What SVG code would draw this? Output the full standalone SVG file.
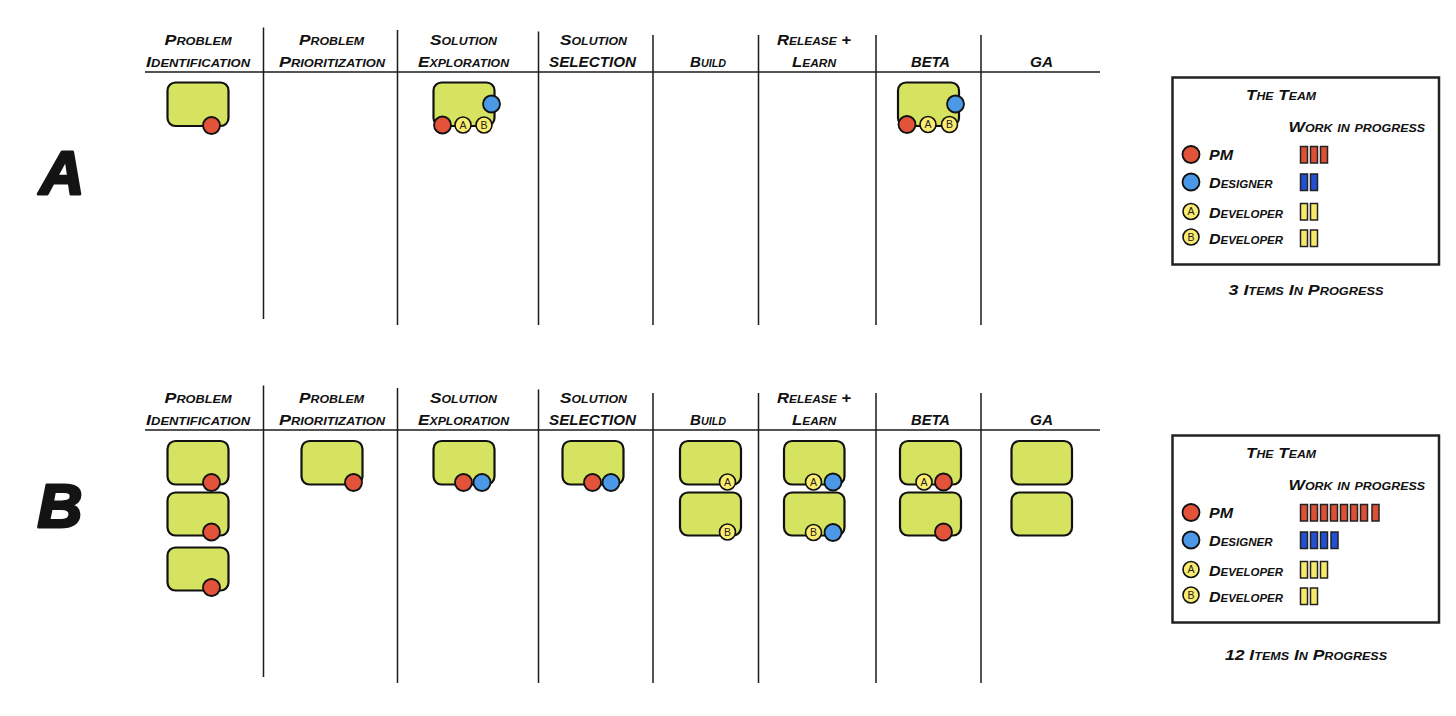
<svg xmlns="http://www.w3.org/2000/svg" width="1456" height="716" viewBox="0 0 1456 716">
<style>
.bg{fill:#ffffff}
.ln{stroke:#1a1a1a;stroke-width:1.5;fill:none}
.hdr{font-family:"Liberation Sans",Arial,sans-serif;font-weight:700;font-style:italic;font-variant:small-caps;font-size:14px;fill:#111;text-anchor:middle}
.lg{font-family:"Liberation Sans",Arial,sans-serif;font-weight:700;font-style:italic;font-variant:small-caps;font-size:14px;fill:#111}
.big{font-family:"Liberation Sans",Arial,sans-serif;font-weight:700;font-style:italic;font-size:62px;fill:#141414;stroke:#141414;stroke-width:3;stroke-linejoin:round;text-anchor:middle}
.card{fill:#d5e361;stroke:#111;stroke-width:2.2}
.red{fill:#e2533a;stroke:#111;stroke-width:1.8}
.blue{fill:#4a98e6;stroke:#111;stroke-width:1.8}
.yel{fill:#faec6e;stroke:#111;stroke-width:1.6}
.dl{font-family:"Liberation Sans",Arial,sans-serif;font-size:10.5px;fill:#222;text-anchor:middle}
.box{fill:none;stroke:#222;stroke-width:2.5}
.rb{fill:#dc5036;stroke:#222;stroke-width:1.5}
.bb{fill:#2350d2;stroke:#222;stroke-width:1.5}
.yb{fill:#f7e96a;stroke:#222;stroke-width:1.5}
</style>
<defs>
<g id="gridlines">
<line class="ln" x1="145" y1="72" x2="1100" y2="72"/>
<line class="ln" x1="263.5" y1="27.5" x2="263.5" y2="319"/>
<line class="ln" x1="397.5" y1="30" x2="397.5" y2="325"/>
<line class="ln" x1="538.5" y1="31.5" x2="538.5" y2="325"/>
<line class="ln" x1="653" y1="35" x2="653" y2="325"/>
<line class="ln" x1="758.5" y1="35" x2="758.5" y2="325"/>
<line class="ln" x1="876" y1="35" x2="876" y2="325"/>
<line class="ln" x1="981" y1="35" x2="981" y2="325"/>
</g>
<g id="headers">
<text class="hdr" x="198" y="44.5" textLength="67" lengthAdjust="spacingAndGlyphs">Problem</text>
<text class="hdr" x="198" y="67" textLength="104" lengthAdjust="spacingAndGlyphs">Identification</text>
<text class="hdr" x="331.5" y="44.5" textLength="65" lengthAdjust="spacingAndGlyphs">Problem</text>
<text class="hdr" x="332" y="67" textLength="106" lengthAdjust="spacingAndGlyphs">Prioritization</text>
<text class="hdr" x="463.5" y="44.5" textLength="67" lengthAdjust="spacingAndGlyphs">Solution</text>
<text class="hdr" x="463.5" y="67" textLength="91" lengthAdjust="spacingAndGlyphs">Exploration</text>
<text class="hdr" x="593.5" y="44.5" textLength="67" lengthAdjust="spacingAndGlyphs">Solution</text>
<text class="hdr" x="592.5" y="67" textLength="87" lengthAdjust="spacingAndGlyphs">SELECTION</text>
<text class="hdr" x="708" y="67" textLength="36" lengthAdjust="spacingAndGlyphs">Build</text>
<text class="hdr" x="814" y="44.5" textLength="74" lengthAdjust="spacingAndGlyphs">Release +</text>
<text class="hdr" x="814" y="67" textLength="44" lengthAdjust="spacingAndGlyphs">Learn</text>
<text class="hdr" x="930.5" y="67" textLength="39" lengthAdjust="spacingAndGlyphs">BETA</text>
<text class="hdr" x="1041.5" y="67" textLength="23" lengthAdjust="spacingAndGlyphs">GA</text>
</g>
<g id="legendbase">
<rect class="box" x="1172.5" y="77.5" width="266.5" height="187"/>
<text class="lg" x="1246" y="99.5" textLength="70" lengthAdjust="spacingAndGlyphs">The Team</text>
<text class="lg" x="1288.5" y="131.5" textLength="136.5" lengthAdjust="spacingAndGlyphs">Work in progress</text>
<circle class="red" cx="1191" cy="154.5" r="8.5"/>
<text class="lg" x="1209" y="159.5" textLength="24" lengthAdjust="spacingAndGlyphs">PM</text>
<circle class="blue" cx="1191" cy="182" r="8.5"/>
<text class="lg" x="1209" y="187.5" textLength="63.5" lengthAdjust="spacingAndGlyphs">Designer</text>
<circle class="yel" cx="1191" cy="211.5" r="8"/>
<text class="dl" x="1191" y="215.3">A</text>
<text class="lg" x="1209" y="217.5" textLength="74" lengthAdjust="spacingAndGlyphs">Developer</text>
<circle class="yel" cx="1191" cy="237" r="8"/>
<text class="dl" x="1191" y="240.8">B</text>
<text class="lg" x="1209" y="243.5" textLength="74" lengthAdjust="spacingAndGlyphs">Developer</text>
</g>
</defs>
<rect class="bg" x="0" y="0" width="1456" height="716"/>

<g id="connectors">
<use href="#gridlines"/>
<use href="#gridlines" transform="translate(0,358)"/>
</g>

<g id="section-labels">
<text class="big" x="62" y="194">A</text>
<text class="big" x="60" y="527">B</text>
</g>

<g id="headers-a"><use href="#headers"/></g>
<g id="headers-b"><use href="#headers" transform="translate(0,358)"/></g>

<!-- Section A cards -->
<g id="a-problem-identification-1">
<rect class="card" x="167.5" y="82.5" width="61" height="43.5" rx="8"/>
<circle class="red" cx="211.5" cy="125.5" r="8.5"/>
</g>
<g id="a-solution-exploration-1">
<rect class="card" x="433.5" y="82.5" width="61" height="43.5" rx="8"/>
<circle class="blue" cx="491.5" cy="104" r="8.5"/>
<circle class="red" cx="442.5" cy="125" r="8.5"/>
<circle class="yel" cx="463" cy="125" r="8"/><text class="dl" x="463" y="128.8">A</text>
<circle class="yel" cx="484" cy="125" r="8"/><text class="dl" x="484" y="128.8">B</text>
</g>
<g id="a-beta-1">
<rect class="card" x="898" y="82.5" width="61" height="43.5" rx="8"/>
<circle class="blue" cx="955.5" cy="104" r="8.5"/>
<circle class="red" cx="907" cy="124.5" r="8.5"/>
<circle class="yel" cx="928" cy="124.5" r="8"/><text class="dl" x="928" y="128.3">A</text>
<circle class="yel" cx="949.5" cy="124.5" r="8"/><text class="dl" x="949.5" y="128.3">B</text>
</g>

<!-- Section B cards -->
<g id="b-problem-identification-1">
<rect class="card" x="167.5" y="441" width="61" height="43.5" rx="8"/>
<circle class="red" cx="211.5" cy="482.5" r="8.5"/>
</g>
<g id="b-problem-identification-2">
<rect class="card" x="167.5" y="492.5" width="61" height="43" rx="8"/>
<circle class="red" cx="211.5" cy="532" r="8.5"/>
</g>
<g id="b-problem-identification-3">
<rect class="card" x="167.5" y="547.5" width="61" height="43" rx="8"/>
<circle class="red" cx="211.5" cy="587.5" r="8.5"/>
</g>
<g id="b-problem-prioritization-1">
<rect class="card" x="301.5" y="441" width="61" height="43.5" rx="8"/>
<circle class="red" cx="353.5" cy="482.5" r="8.5"/>
</g>
<g id="b-solution-exploration-1">
<rect class="card" x="433.5" y="441" width="61" height="43.5" rx="8"/>
<circle class="red" cx="463.5" cy="482.5" r="8.5"/>
<circle class="blue" cx="482" cy="482.5" r="8.5"/>
</g>
<g id="b-solution-selection-1">
<rect class="card" x="562.5" y="441" width="61" height="43.5" rx="8"/>
<circle class="red" cx="592.5" cy="482.5" r="8.5"/>
<circle class="blue" cx="611" cy="482.5" r="8.5"/>
</g>
<g id="b-build-1">
<rect class="card" x="680" y="441" width="61" height="43.5" rx="8"/>
<circle class="yel" cx="727.5" cy="482" r="8"/><text class="dl" x="727.5" y="485.8">A</text>
</g>
<g id="b-build-2">
<rect class="card" x="680" y="492.5" width="61" height="43" rx="8"/>
<circle class="yel" cx="727.5" cy="532" r="8"/><text class="dl" x="727.5" y="535.8">B</text>
</g>
<g id="b-release-learn-1">
<rect class="card" x="784" y="441" width="60.5" height="43.5" rx="8"/>
<circle class="yel" cx="813.5" cy="482" r="8"/><text class="dl" x="813.5" y="485.8">A</text>
<circle class="blue" cx="833" cy="482" r="8.5"/>
</g>
<g id="b-release-learn-2">
<rect class="card" x="784" y="492.5" width="60.5" height="43" rx="8"/>
<circle class="yel" cx="813.5" cy="532.5" r="8"/><text class="dl" x="813.5" y="536.3">B</text>
<circle class="blue" cx="833" cy="532.5" r="8.5"/>
</g>
<g id="b-beta-1">
<rect class="card" x="900" y="441" width="61" height="43.5" rx="8"/>
<circle class="yel" cx="924" cy="482" r="8"/><text class="dl" x="924" y="485.8">A</text>
<circle class="red" cx="943.5" cy="482" r="8.5"/>
</g>
<g id="b-beta-2">
<rect class="card" x="900" y="492.5" width="61" height="43" rx="8"/>
<circle class="red" cx="943.5" cy="532" r="8.5"/>
</g>
<g id="b-ga-1">
<rect class="card" x="1011.5" y="441" width="60.5" height="43.5" rx="8"/>
</g>
<g id="b-ga-2">
<rect class="card" x="1011.5" y="492.5" width="60.5" height="43" rx="8"/>
</g>

<!-- Legend A -->
<g id="legend-a">
<use href="#legendbase"/>
<rect class="rb" x="1300.5" y="146.5" width="7" height="16.5"/>
<rect class="rb" x="1310.5" y="146.5" width="7" height="16.5"/>
<rect class="rb" x="1320.5" y="146.5" width="7" height="16.5"/>
<rect class="bb" x="1300.5" y="174" width="7" height="16.5"/>
<rect class="bb" x="1310.5" y="174" width="7" height="16.5"/>
<rect class="yb" x="1300.5" y="203.5" width="7" height="16.5"/>
<rect class="yb" x="1310.5" y="203.5" width="7" height="16.5"/>
<rect class="yb" x="1300.5" y="230" width="7" height="16.5"/>
<rect class="yb" x="1310.5" y="230" width="7" height="16.5"/>
<text class="lg" x="1228.5" y="295" textLength="155" lengthAdjust="spacingAndGlyphs">3 Items In Progress</text>
</g>

<!-- Legend B -->
<g id="legend-b">
<use href="#legendbase" transform="translate(0,358)"/>
<rect class="rb" x="1300.5" y="504.5" width="7" height="16.5"/>
<rect class="rb" x="1310.5" y="504.5" width="7" height="16.5"/>
<rect class="rb" x="1320.5" y="504.5" width="7" height="16.5"/>
<rect class="rb" x="1330.5" y="504.5" width="7" height="16.5"/>
<rect class="rb" x="1340.5" y="504.5" width="7" height="16.5"/>
<rect class="rb" x="1350.5" y="504.5" width="7" height="16.5"/>
<rect class="rb" x="1360.5" y="504.5" width="7" height="16.5"/>
<rect class="rb" x="1372" y="504.5" width="7" height="16.5"/>
<rect class="bb" x="1300.5" y="532" width="7" height="16.5"/>
<rect class="bb" x="1310.5" y="532" width="7" height="16.5"/>
<rect class="bb" x="1320.5" y="532" width="7" height="16.5"/>
<rect class="bb" x="1331" y="532" width="7" height="16.5"/>
<rect class="yb" x="1300.5" y="561.5" width="7" height="16.5"/>
<rect class="yb" x="1310.5" y="561.5" width="7" height="16.5"/>
<rect class="yb" x="1320.5" y="561.5" width="7" height="16.5"/>
<rect class="yb" x="1300.5" y="588" width="7" height="16.5"/>
<rect class="yb" x="1310.5" y="588" width="7" height="16.5"/>
<text class="lg" x="1225" y="660" textLength="162" lengthAdjust="spacingAndGlyphs">12 Items In Progress</text>
</g>
</svg>
